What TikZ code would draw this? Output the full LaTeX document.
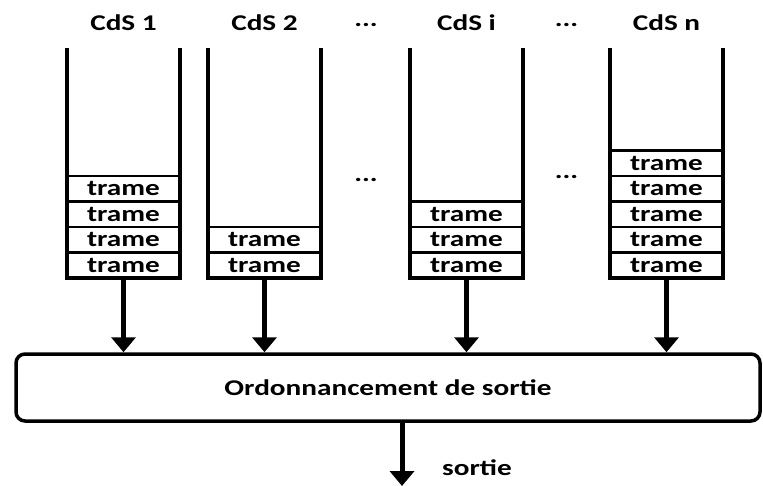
\documentclass[tikz,border=0pt]{standalone}
\usepackage{fontspec}
\newfontfamily\cdsfont{Carlito}[FakeStretch=1.3]
\usetikzlibrary{positioning,chains,arrows.meta}

\begin{document}
\begin{tikzpicture}[x=1pt,y=-1pt,
    every node/.style={font=\cdsfont\bfseries\fontsize{22.5}{27}\selectfont},
    trame/.style={draw,line width=2.5pt,minimum width=113pt,minimum height=25.5pt,
      inner sep=0pt,outer sep=0pt},
    wall/.style={line width=3.5pt},
    fleche/.style={line width=5pt,-{Triangle[width=24pt,length=15pt]}}
  ]
  \useasboundingbox (0,0) rectangle (763,486);
  \coordinate (top) at (0,48);

  % the scheduler
  \node[draw,line width=3.5pt,rounded corners=9pt,minimum width=744pt,
    minimum height=67pt] (sched) at (388,387.5) {Ordonnancement de sortie};

  % the queues
  \foreach \q/\lab/\x/\n in {a/1/123.5/4,b/2/264.5/2,c/i/466.5/3,d/n/666.5/5} {
    \begin{scope}[start chain=going above,node distance=0pt]
      \node[trame,on chain,anchor=south] (\q1) at (\x,278) {trame};
      \foreach \j in {2,...,\n}
        \node[trame,on chain] (\q\j) {trame};
    \end{scope}
    \draw[wall] (\q1.south west |- top) -- (\q1.south west)
      -- (\q1.south east) -- (\q1.south east |- top);
    \node (l\q) at (\x,23) {CdS \lab};
    \draw[fleche] (\q1.south) -- (sched.north -| \q1.south);
  }

  % the dots
  \node (dots1) at (366,25) {...};
  \node (dots2) at (566.5,25) {...};
  \node (dots3) at (366,180) {...};
  \node (dots4) at (566.5,177) {...};

  % the output
  \coordinate (out) at (402,486);
  \draw[fleche] (sched.south -| out) -- (out);
  \node (sortie) at (477,468) {sortie};
\end{tikzpicture}
\end{document}
